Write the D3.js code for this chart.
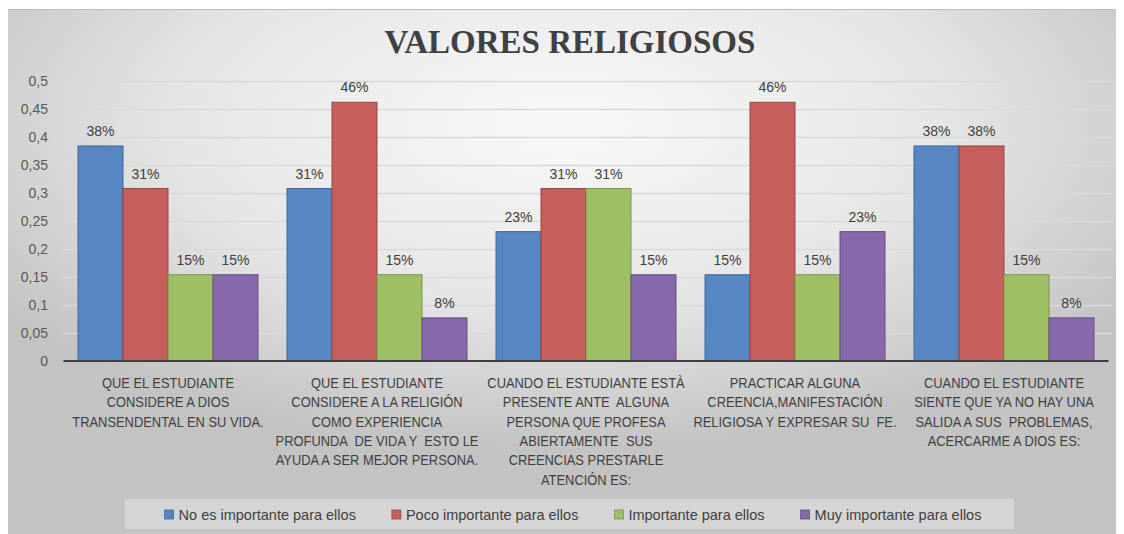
<!DOCTYPE html>
<html>
<head>
<meta charset="utf-8">
<script src="https://cdn.jsdelivr.net/npm/d3@7"></script>
<style>
  html, body { margin: 0; padding: 0; background: #ffffff; }
  svg { display: block; }
  text { white-space: pre; }
</style>
</head>
<body>
<svg id="chart" width="1124" height="534"></svg>
<script>
const title = "VALORES RELIGIOSOS";
const categories = [
  ["QUE EL ESTUDIANTE", "CONSIDERE A DIOS", "TRANSENDENTAL EN SU VIDA."],
  ["QUE EL ESTUDIANTE", "CONSIDERE A LA RELIGIÓN", "COMO EXPERIENCIA", "PROFUNDA  DE VIDA Y  ESTO LE", "AYUDA A SER MEJOR PERSONA."],
  ["CUANDO EL ESTUDIANTE ESTÀ", "PRESENTE ANTE  ALGUNA", "PERSONA QUE PROFESA", "ABIERTAMENTE  SUS", "CREENCIAS PRESTARLE", "ATENCIÓN ES:"],
  ["PRACTICAR ALGUNA", "CREENCIA,MANIFESTACIÓN", "RELIGIOSA Y EXPRESAR SU  FE."],
  ["CUANDO EL ESTUDIANTE", "SIENTE QUE YA NO HAY UNA", "SALIDA A SUS  PROBLEMAS,", "ACERCARME A DIOS ES:"]
];
const seriesNames = ["No es importante para ellos", "Poco importante para ellos", "Importante para ellos", "Muy importante para ellos"];
const noImportante    = [0.384, 0.308, 0.231, 0.154, 0.384];
const pocoImportante  = [0.308, 0.462, 0.308, 0.462, 0.384];
const importante      = [0.154, 0.154, 0.308, 0.154, 0.154];
const muyImportante   = [0.154, 0.077, 0.154, 0.231, 0.077];
const yTicks = [0, 0.05, 0.1, 0.15, 0.2, 0.25, 0.3, 0.35, 0.4, 0.45, 0.5];

const seriesValues = [noImportante, pocoImportante, importante, muyImportante];
const fills   = ["#5787c3", "#c65f5c", "#9fbf64", "#8769ab"];
const strokes = ["#41679a", "#9a4543", "#7a9449", "#654d84"];

const svg = d3.select("#chart");
const defs = svg.append("defs");
const grad = defs.append("radialGradient").attr("id", "bg")
  .attr("cx", 0.5).attr("cy", 0.22).attr("r", 0.62).attr("fx", 0.5).attr("fy", 0.22);
grad.append("stop").attr("offset", "0%").attr("stop-color", "#f9f9f9");
grad.append("stop").attr("offset", "55%").attr("stop-color", "#e6e6e6");
grad.append("stop").attr("offset", "100%").attr("stop-color", "#c3c3c3");

svg.append("rect").attr("x", 8).attr("y", 9).attr("width", 1108).attr("height", 525)
  .attr("fill", "url(#bg)");
svg.append("line").attr("x1", 8).attr("x2", 1116).attr("y1", 9.5).attr("y2", 9.5)
  .attr("stroke", "#bdbdbd").attr("stroke-width", 1);

const plotLeft = 63.5, plotRight = 1108.5, plotTop = 81, plotBottom = 361;
const x0 = d3.scaleBand().domain(d3.range(categories.length)).range([plotLeft, plotRight])
  .paddingInner(0.1388).paddingOuter(0.0694);
const x1 = d3.scaleBand().domain(d3.range(seriesNames.length)).range([0, x0.bandwidth()]);
const y = d3.scaleLinear().domain([0, 0.5]).range([plotBottom, plotTop]);

// title
svg.append("text").attr("x", 570).attr("y", 53).attr("text-anchor", "middle")
  .attr("font-family", "'Liberation Serif', 'Times New Roman', serif")
  .attr("font-weight", "bold").attr("font-size", 33).attr("fill", "#404040")
  .text(title);

// gridlines
svg.append("g").selectAll("line").data(yTicks.filter(d => d > 0)).join("line")
  .attr("x1", plotLeft).attr("x2", 1112)
  .attr("y1", d => Math.round(y(d)) + 0.5).attr("y2", d => Math.round(y(d)) + 0.5)
  .attr("stroke", "#d9d9d9").attr("stroke-width", 1.5);

// y axis
const fmt = d => String(+d.toFixed(2)).replace(".", ",");
const yAxis = d3.axisLeft(y).tickValues(yTicks).tickFormat(fmt).tickSize(0).tickPadding(0);
const yg = svg.append("g").attr("transform", "translate(48,0)").call(yAxis);
yg.select(".domain").remove();
yg.selectAll("text").attr("font-family", "'Liberation Sans', Arial, sans-serif")
  .attr("font-size", 14).attr("fill", "#595959");

// bars
const groups = svg.append("g").selectAll("g").data(categories).join("g")
  .attr("transform", (d, i) => `translate(${x0(i)},0)`);
groups.selectAll("rect")
  .data((d, i) => seriesValues.map((s, k) => ({ k, v: s[i] })))
  .join("rect")
  .attr("x", d => x1(d.k)).attr("width", x1.bandwidth())
  .attr("y", d => y(d.v)).attr("height", d => plotBottom - y(d.v))
  .attr("fill", d => fills[d.k]).attr("stroke", d => strokes[d.k]).attr("stroke-width", 1);
groups.selectAll("text.lbl")
  .data((d, i) => seriesValues.map((s, k) => ({ k, v: s[i] })))
  .join("text").attr("class", "lbl")
  .attr("x", d => x1(d.k) + x1.bandwidth() / 2).attr("y", d => y(d.v) - 10)
  .attr("text-anchor", "middle")
  .attr("font-family", "'Liberation Sans', Arial, sans-serif").attr("font-size", 14)
  .attr("fill", "#404040")
  .text(d => Math.round(d.v * 100) + "%");

// x axis line
svg.append("line").attr("x1", plotLeft).attr("x2", plotRight).attr("y1", plotBottom).attr("y2", plotBottom)
  .attr("stroke", "#3f3f3f").attr("stroke-width", 2.2);

// category labels (Liberation Sans condensed horizontally to mimic Calibri widths)
const condense = 0.86;
const cl = svg.append("g").selectAll("g").data(categories).join("g");
cl.each(function(lines, i) {
  const g = d3.select(this);
  const cxm = x0(i) + x0.bandwidth() / 2;
  lines.forEach((ln, j) => {
    const t = g.append("text")
      .attr("x", cxm).attr("y", 388 + j * 19.3)
      .attr("text-anchor", "middle")
      .attr("font-family", "'Liberation Sans', Arial, sans-serif")
      .attr("font-size", 15).attr("fill", "#404040")
      .text(ln);
    const w = t.node().getComputedTextLength();
    t.attr("textLength", w * condense).attr("lengthAdjust", "spacingAndGlyphs");
  });
});

// legend
svg.append("rect").attr("x", 125).attr("y", 499).attr("width", 889).attr("height", 30)
  .attr("fill", "#ffffff").attr("opacity", 0.3);
const lg = svg.append("g");
const items = lg.selectAll("g").data(seriesNames).join("g");
items.append("rect").attr("width", 9).attr("height", 9).attr("y", 510)
  .attr("fill", (d, i) => fills[i]).attr("stroke", (d, i) => strokes[i]).attr("stroke-width", 0.8);
items.append("text").attr("x", 14).attr("y", 519.5)
  .attr("font-family", "'Liberation Sans', Arial, sans-serif").attr("font-size", 14.5)
  .attr("fill", "#404040").text(d => d);
const widths = [];
items.each(function() { widths.push(14 + d3.select(this).select("text").node().getComputedTextLength()); });
const gap = 36;
const total = d3.sum(widths) + gap * (widths.length - 1);
let cx = 573 - total / 2;
items.each(function(d, i) {
  d3.select(this).attr("transform", `translate(${cx},0)`);
  cx += widths[i] + gap;
});
</script>
</body>
</html>
